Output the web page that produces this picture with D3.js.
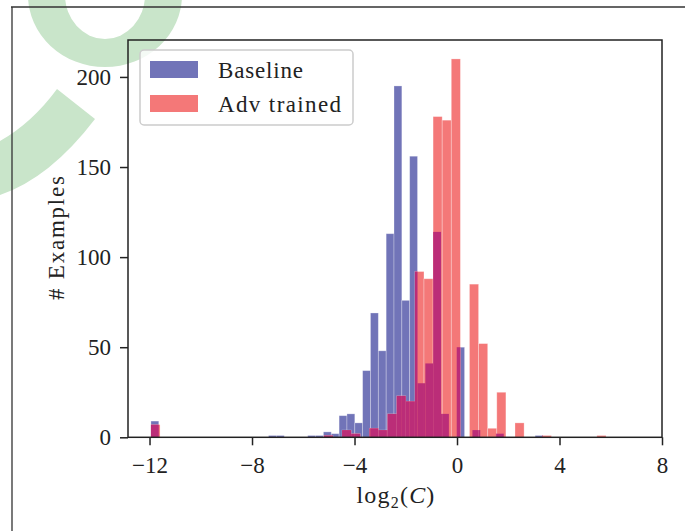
<!DOCTYPE html>
<html lang="en">
<head>
<meta charset="UTF-8">
<title>log2(C) histogram</title>
<script src="https://cdn.jsdelivr.net/npm/d3@7"></script>
<style>
  body { margin: 0; background: #fff; }
  text { font-family: "Liberation Serif", "Times New Roman", serif; fill: #222; }
  .tick line { stroke: #222; stroke-width: 1.5; }
</style>
</head>
<body>
<svg id="chart" width="685" height="531"></svg>
<script>
// histogram data: 50 equal bins over each series' own range (log2 C)
var baselineRange = [-11.945, 3.355];
var baselineCounts = [9, 0, 0, 0, 0, 0, 0, 0, 0, 0,
                      0, 0, 0, 0, 0, 1, 1, 0, 0, 0,
                      1, 1, 3, 2, 12, 13, 8, 37, 69, 48,
                      113, 195, 76, 156, 30, 41, 114, 13, 0, 50,
                      0, 4, 0, 0, 2, 0, 0, 0, 0, 1];
var advRange = [-11.945, 5.815];
var advCounts = [7, 0, 0, 0, 0, 0, 0, 0, 0, 0,
                 0, 0, 0, 0, 0, 0, 0, 0, 0, 1,
                 0, 4, 2, 0, 5, 4, 13, 23, 20, 92,
                 88, 178, 176, 210, 0, 85, 52, 5, 25, 0,
                 8, 0, 0, 1, 0, 0, 0, 0, 0, 1];
var seriesNames = ["Baseline", "Adv trained"];
var xTicks = [-12, -8, -4, 0, 4, 8];
var yTicks = [0, 50, 100, 150, 200];

var colors = { base: "#7174b8", adv: "#f47878", both: "#bb2d78" };

var svg = d3.select("#chart");

// watermark and page frame behind the chart
var wm = svg.append("g").attr("fill", "#c9e5ca");
wm.append("path")
  .attr("fill-rule", "evenodd")
  .attr("d", "M28,-5 A77,72 0 1,0 182,-5 A77,72 0 1,0 28,-5 Z " +
             "M65,-5 A40,44 0 1,0 145,-5 A40,44 0 1,0 65,-5 Z");
wm.append("path")
  .attr("d", "M57,89 L95,119 Q50,178 0,195 L0,141 Q32,123 57,89 Z");

svg.append("path")
  .attr("d", "M11,7 H685 M12,7 V531")
  .attr("fill", "none")
  .attr("stroke", "#333")
  .attr("stroke-width", 1.3);

var plotLeft = 128, plotRight = 662, plotTop = 40, plotBottom = 437.3;

var x = d3.scaleLinear().domain([-12.84, 8]).range([plotLeft, plotRight]);
var y = d3.scaleLinear().domain([0, 220.5]).range([plotBottom, plotTop]);

function makeBins(range, counts) {
  var w = (range[1] - range[0]) / counts.length;
  return counts.map(function(c, i) {
    return { x0: range[0] + i * w, x1: range[0] + (i + 1) * w, count: c };
  });
}

var baseBins = makeBins(baselineRange, baselineCounts);
var advBins = makeBins(advRange, advCounts);

// overlap pieces: where both histograms cover the same area
var overlap = [];
baseBins.forEach(function(b) {
  advBins.forEach(function(a) {
    var lo = Math.max(a.x0, b.x0), hi = Math.min(a.x1, b.x1);
    var c = Math.min(a.count, b.count);
    if (hi > lo && c > 0) overlap.push({ x0: lo, x1: hi, count: c });
  });
});

var plot = svg.append("g");

function drawBars(data, fill, edge) {
  plot.append("g")
    .selectAll("rect")
    .data(data.filter(function(d) { return d.count > 0; }))
    .enter()
    .append("rect")
    .attr("x", function(d) { return x(d.x0); })
    .attr("width", function(d) { return x(d.x1) - x(d.x0); })
    .attr("y", function(d) { return y(d.count); })
    .attr("height", function(d) { return y(0) - y(d.count); })
    .attr("fill", fill)
    .attr("stroke", edge ? "#fff" : "none")
    .attr("stroke-opacity", 0.35)
    .attr("stroke-width", 0.8);
}

drawBars(baseBins, colors.base, true);
drawBars(advBins, colors.adv, true);
drawBars(overlap, colors.both, false);

// axes
var fmt = function(d) { return d < 0 ? "\u2212" + Math.abs(d) : "" + d; };

var xAxis = svg.append("g")
  .attr("transform", "translate(0," + plotBottom + ")")
  .call(d3.axisBottom(x).tickValues(xTicks).tickSize(8).tickPadding(11).tickFormat(fmt));
xAxis.select(".domain").remove();
xAxis.selectAll("text").attr("font-size", 23).attr("font-family", null).attr("fill", "#222");

var yAxis = svg.append("g")
  .attr("transform", "translate(" + plotLeft + ",0)")
  .call(d3.axisLeft(y).tickValues(yTicks).tickSize(8).tickPadding(9).tickFormat(fmt));
yAxis.select(".domain").remove();
yAxis.selectAll("text").attr("font-size", 23).attr("font-family", null).attr("fill", "#222");

svg.append("rect")
  .attr("x", plotLeft).attr("y", plotTop)
  .attr("width", plotRight - plotLeft).attr("height", plotBottom - plotTop)
  .attr("fill", "none")
  .attr("stroke", "#222")
  .attr("stroke-width", 1.5);

// axis labels
var xl = svg.append("text")
  .attr("x", (plotLeft + plotRight) / 2 + 1)
  .attr("y", 503)
  .attr("text-anchor", "middle")
  .attr("letter-spacing", 1.2)
  .attr("font-size", 24);
xl.append("tspan").text("log");
xl.append("tspan").attr("font-size", 16).attr("dy", 5).text("2");
xl.append("tspan").attr("dy", -5).text("(");
xl.append("tspan").attr("font-style", "italic").text("C");
xl.append("tspan").text(")");

svg.append("text")
  .attr("transform", "translate(64,238) rotate(-90)")
  .attr("text-anchor", "middle")
  .attr("font-size", 23)
  .attr("textLength", 124)
  .attr("lengthAdjust", "spacing")
  .text("# Examples");

// legend
var legend = svg.append("g");
legend.append("rect")
  .attr("x", 140).attr("y", 50)
  .attr("width", 213).attr("height", 75)
  .attr("rx", 4)
  .attr("fill", "#fff").attr("fill-opacity", 0.8)
  .attr("stroke", "#ccc").attr("stroke-width", 1.5);

var legendColors = [colors.base, colors.adv];
var legendWidths = [85, 123];
seriesNames.forEach(function(name, i) {
  legend.append("rect")
    .attr("x", 150).attr("y", 61 + i * 34)
    .attr("width", 48).attr("height", 17)
    .attr("fill", legendColors[i]);
  legend.append("text")
    .attr("x", 218).attr("y", 78 + i * 34)
    .attr("font-size", 23)
    .attr("textLength", legendWidths[i])
    .attr("lengthAdjust", "spacing")
    .text(name);
});
</script>
</body>
</html>
